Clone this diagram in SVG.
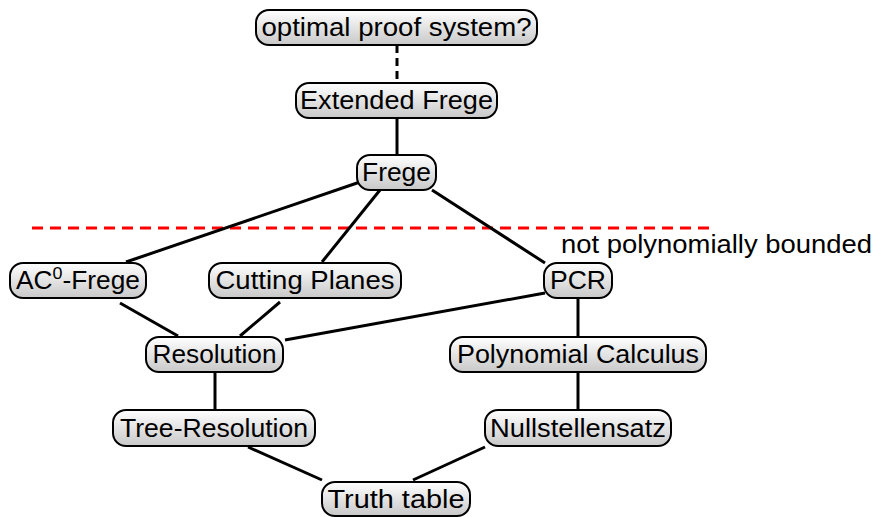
<svg xmlns="http://www.w3.org/2000/svg" width="878" height="517" viewBox="0 0 878 517">
  <defs>
    <linearGradient id="shade" x1="0" y1="0" x2="0" y2="1">
      <stop offset="0" stop-color="#ffffff"/>
      <stop offset="1" stop-color="#c8c8c8"/>
    </linearGradient>
  </defs>
  <style>
    .box { fill: url(#shade); stroke: #000; stroke-width: 2; }
    .lbl { font-family: "Liberation Sans", "DejaVu Sans", sans-serif; font-size: 25px; fill: #000; text-anchor: middle; }
    .edge { stroke: #000; stroke-width: 3; fill: none; }
    .dash { stroke-dasharray: 8 5; }
    .bound { stroke: #ff0000; stroke-width: 3; stroke-dasharray: 11 7; fill: none; }
    .note { font-family: "Liberation Sans", "DejaVu Sans", sans-serif; font-size: 25px; fill: #000; }
  </style>

  <!-- separator for systems with polynomially bounded lower bounds -->
  <g id="boundary">
    <line class="bound" x1="32" y1="228" x2="712" y2="228"/>
    <text class="note" x="561" y="253" textLength="311" lengthAdjust="spacingAndGlyphs">not polynomially bounded</text>
  </g>

  <g id="connectors">
    <line class="edge dash" x1="397" y1="45" x2="397" y2="83"/>
    <line class="edge" x1="397" y1="118" x2="397" y2="155"/>
    <line class="edge" x1="360" y1="182" x2="126" y2="262"/>
    <line class="edge" x1="380" y1="190" x2="322" y2="262"/>
    <line class="edge" x1="432" y1="190" x2="545" y2="263"/>
    <line class="edge" x1="120" y1="303" x2="178" y2="336"/>
    <line class="edge" x1="280" y1="302" x2="240" y2="336"/>
    <line class="edge" x1="545" y1="293" x2="285" y2="340"/>
    <line class="edge" x1="215" y1="372" x2="215" y2="409"/>
    <line class="edge" x1="578" y1="298" x2="578" y2="337"/>
    <line class="edge" x1="578" y1="372" x2="578" y2="409"/>
    <line class="edge" x1="248" y1="447" x2="322" y2="480"/>
    <line class="edge" x1="485" y1="447" x2="413" y2="480"/>
  </g>

  <g id="optimal">
    <rect class="box" x="256" y="10" width="281" height="35" rx="13"/>
    <text class="lbl" x="396.5" y="36" textLength="270" lengthAdjust="spacingAndGlyphs">optimal proof system?</text>
  </g>
  <g id="extended-frege">
    <rect class="box" x="296" y="83" width="201" height="35" rx="13"/>
    <text class="lbl" x="396.5" y="109" textLength="193" lengthAdjust="spacingAndGlyphs">Extended Frege</text>
  </g>
  <g id="frege">
    <rect class="box" x="357" y="155" width="79" height="35" rx="13"/>
    <text class="lbl" x="396.5" y="181" textLength="69" lengthAdjust="spacingAndGlyphs">Frege</text>
  </g>
  <g id="ac0-frege">
    <rect class="box" x="10" y="263" width="136" height="35" rx="13"/>
    <text class="lbl" x="78" y="289" textLength="124" lengthAdjust="spacingAndGlyphs">AC<tspan dy="-10" font-size="17">0</tspan><tspan dy="10">-Frege</tspan></text>
  </g>
  <g id="cutting-planes">
    <rect class="box" x="209" y="263" width="192" height="35" rx="13"/>
    <text class="lbl" x="305" y="289" textLength="179" lengthAdjust="spacingAndGlyphs">Cutting Planes</text>
  </g>
  <g id="pcr">
    <rect class="box" x="544" y="263" width="68" height="35" rx="13"/>
    <text class="lbl" x="578" y="289" textLength="56" lengthAdjust="spacingAndGlyphs">PCR</text>
  </g>
  <g id="resolution">
    <rect class="box" x="146" y="337" width="137" height="35" rx="13"/>
    <text class="lbl" x="214.5" y="363" textLength="124" lengthAdjust="spacingAndGlyphs">Resolution</text>
  </g>
  <g id="polynomial-calculus">
    <rect class="box" x="450" y="337" width="256" height="35" rx="13"/>
    <text class="lbl" x="578" y="363" textLength="242" lengthAdjust="spacingAndGlyphs">Polynomial Calculus</text>
  </g>
  <g id="tree-resolution">
    <rect class="box" x="113" y="410" width="202" height="36" rx="13"/>
    <text class="lbl" x="214" y="437" textLength="188" lengthAdjust="spacingAndGlyphs">Tree-Resolution</text>
  </g>
  <g id="nullstellensatz">
    <rect class="box" x="485" y="410" width="186" height="36" rx="13"/>
    <text class="lbl" x="578" y="437" textLength="176" lengthAdjust="spacingAndGlyphs">Nullstellensatz</text>
  </g>
  <g id="truth-table">
    <rect class="box" x="322" y="482" width="148" height="34" rx="13"/>
    <text class="lbl" x="396" y="508" textLength="137" lengthAdjust="spacingAndGlyphs">Truth table</text>
  </g>
</svg>
